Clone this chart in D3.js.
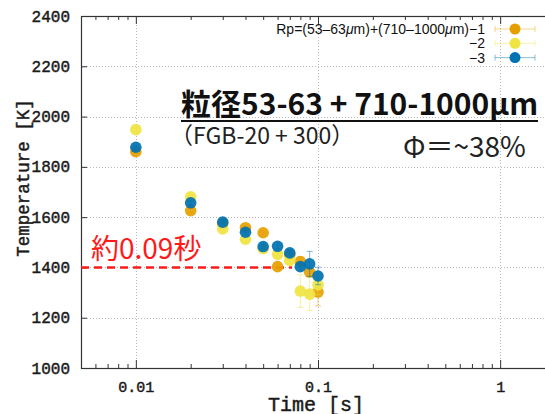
<!DOCTYPE html>
<html>
<head>
<meta charset="utf-8">
<script src="https://cdn.jsdelivr.net/npm/d3@7"></script>
<style>
  body { margin: 0; background: #fff; }
  svg { display: block; }
</style>
</head>
<body>
<svg id="canvas" width="545" height="414"></svg>
<script>
// data
var times = [0.01, 0.02, 0.03, 0.04, 0.05, 0.06, 0.07, 0.08, 0.09, 0.1];
var temp1 = [1860, 1626, 1575, 1558, 1538, 1403, 1450, 1423, 1381, 1302];
var temp2 = [1948, 1681, 1553, 1512, 1475, 1452, 1428, 1306, 1294, 1331];
var temp3 = [1878, 1657, 1580, 1540, 1483, 1484, 1458, 1403, 1414, 1366];
var err1 = [8, 8, 8, 8, 8, 10, 10, 20, 15, 55];
var err2 = [8, 8, 8, 8, 8, 10, 15, 65, 65, 40];
var err3 = [8, 8, 8, 8, 8, 10, 12, 15, 50, 35];
var seriesNames = ["Rp=(53\u201363\u03bcm)+(710\u20131000\u03bcm)\u22121", "\u22122", "\u22123"];
var seriesColors = ["#e69f00", "#f0e442", "#0072b2"];
var xTicks = [0.01, 0.1, 1];
var xTickLabels = ["0.01", "0.1", "1"];
var yTicks = [1000, 1200, 1400, 1600, 1800, 2000, 2200, 2400];
var cutoffTemp = 1400, cutoffTime = 0.072;

var svg = d3.select("#canvas"),
  pLeft = 81, pTop = 16, pBottom = 368, pRight = 555;

var x = d3.scaleLog().domain([0.005, 2]).range([pLeft, pRight]);
var y = d3.scaleLinear().domain([1000, 2400]).range([pBottom, pTop]);

var mono = "'Liberation Mono', 'DejaVu Sans Mono', monospace";

// grid
var grid = svg.append("g").attr("stroke", "#b8b8b8").attr("stroke-width", 1).attr("stroke-dasharray", "1,2");
grid.selectAll(".gx").data(xTicks).enter().append("line")
  .attr("x1", function(d) { return Math.round(x(d)) + 0.5; })
  .attr("x2", function(d) { return Math.round(x(d)) + 0.5; })
  .attr("y1", pTop).attr("y2", pBottom);
grid.selectAll(".gy").data(yTicks.slice(1, -1)).enter().append("line")
  .attr("x1", pLeft).attr("x2", pRight)
  .attr("y1", function(d) { return Math.round(y(d)) + 0.5; })
  .attr("y2", function(d) { return Math.round(y(d)) + 0.5; });

// minor ticks for log axis
var minor = [];
[0.001, 0.01, 0.1, 1].forEach(function(b) {
  for (var k = 2; k <= 9; k++) {
    var v = b * k;
    if (v > 0.005 && v < 2) minor.push(v);
  }
});

function styleAxis(g) {
  g.select(".domain").remove();
  g.selectAll("line").attr("stroke", "#333");
}
function styleLabels(sel, size) {
  sel.attr("font-family", mono).attr("font-size", size).attr("fill", "#1a1a1a")
    .attr("stroke", "#1a1a1a").attr("stroke-width", 0.45);
}

svg.append("g").attr("transform", "translate(0," + pBottom + ")")
  .call(d3.axisBottom(x).tickValues(xTicks).tickSize(-8).tickFormat(function(d, i) { return xTickLabels[i]; }).tickPadding(13))
  .call(styleAxis)
  .selectAll("text").call(styleLabels, 15);
svg.append("g").attr("transform", "translate(0," + pBottom + ")")
  .call(d3.axisBottom(x).tickValues(minor).tickSize(-4).tickFormat(""))
  .call(styleAxis);
svg.append("g").attr("transform", "translate(0," + pTop + ")")
  .call(d3.axisTop(x).tickValues(xTicks).tickSize(-8).tickFormat(""))
  .call(styleAxis);
svg.append("g").attr("transform", "translate(0," + pTop + ")")
  .call(d3.axisTop(x).tickValues(minor).tickSize(-4).tickFormat(""))
  .call(styleAxis);
svg.append("g").attr("transform", "translate(" + pLeft + ",0)")
  .call(d3.axisLeft(y).tickValues(yTicks).tickSize(-6).tickPadding(11).tickFormat(d3.format("d")))
  .call(styleAxis)
  .selectAll("text").call(styleLabels, 16);

// border
svg.append("rect").attr("x", pLeft + 0.5).attr("y", pTop + 0.5)
  .attr("width", pRight - pLeft).attr("height", pBottom - pTop)
  .attr("fill", "none").attr("stroke", "#333").attr("stroke-width", 1.2);

// axis titles
svg.append("text").attr("x", 316).attr("y", 411).attr("text-anchor", "middle")
  .text("Time [s]").call(styleLabels, 20);
svg.append("text").attr("transform", "translate(29,178) rotate(-90)").attr("text-anchor", "middle")
  .text("Temperature [K]").call(styleLabels, 17.5);

// cut-off line
svg.append("line")
  .attr("x1", x(0.005)).attr("x2", x(cutoffTime))
  .attr("y1", y(cutoffTemp)).attr("y2", y(cutoffTemp))
  .attr("stroke", "#ff1a1a").attr("stroke-width", 2.6).attr("stroke-dasharray", "8,5");

// series
var allSeries = [temp1, temp2, temp3].map(function(vals, i) {
  var errs = [err1, err2, err3][i];
  return times.map(function(t, j) { return { t: t, v: vals[j], e: errs[j], s: i }; });
});

allSeries.forEach(function(pts, i) {
  var g = svg.append("g");
  var eb = g.selectAll(".eb").data(pts).enter().append("g")
    .attr("stroke", seriesColors[i]).attr("stroke-opacity", 0.5).attr("stroke-width", 1);
  eb.append("line")
    .attr("x1", function(d) { return x(d.t); }).attr("x2", function(d) { return x(d.t); })
    .attr("y1", function(d) { return y(d.v - d.e); }).attr("y2", function(d) { return y(d.v + d.e); });
  eb.append("line")
    .attr("x1", function(d) { return x(d.t) - 3; }).attr("x2", function(d) { return x(d.t) + 3; })
    .attr("y1", function(d) { return y(d.v - d.e); }).attr("y2", function(d) { return y(d.v - d.e); });
  eb.append("line")
    .attr("x1", function(d) { return x(d.t) - 3; }).attr("x2", function(d) { return x(d.t) + 3; })
    .attr("y1", function(d) { return y(d.v + d.e); }).attr("y2", function(d) { return y(d.v + d.e); });
  g.selectAll("circle").data(pts).enter().append("circle")
    .attr("cx", function(d) { return x(d.t); })
    .attr("cy", function(d) { return y(d.v); })
    .attr("r", 5.8)
    .attr("fill", seriesColors[i]).attr("fill-opacity", 0.92);
});

// legend
var leg = svg.append("g");
seriesNames.forEach(function(name, i) {
  var ly = 29 + i * 14.3;
  var t = leg.append("text").attr("x", 485).attr("y", ly + 5).attr("text-anchor", "end")
    .attr("font-family", "'Liberation Sans', Arial, sans-serif").attr("font-size", 14).attr("fill", "#111");
  name.split("\u03bc").forEach(function(part, k) {
    if (k > 0) t.append("tspan").attr("font-style", "italic").text("\u03bc");
    t.append("tspan").text(part);
  });
  var lg = leg.append("g").attr("stroke", seriesColors[i]).attr("stroke-opacity", 0.45);
  lg.append("line").attr("x1", 495).attr("x2", 535).attr("y1", ly).attr("y2", ly);
  lg.append("line").attr("x1", 495).attr("x2", 495).attr("y1", ly - 3).attr("y2", ly + 3);
  lg.append("line").attr("x1", 535).attr("x2", 535).attr("y1", ly - 3).attr("y2", ly + 3);
  leg.append("circle").attr("cx", 515).attr("cy", ly).attr("r", 5.5).attr("fill", seriesColors[i]);
});

// annotations
var jp = "'Noto Sans CJK JP', 'Noto Sans', sans-serif";
svg.append("text").attr("x", 181).attr("y", 115)
  .attr("font-family", jp).attr("font-weight", "bold").attr("font-size", 30).attr("fill", "#111")
  .text("\u7c92\u5f8453-63 + 710-1000\u00b5m");
svg.append("line").attr("x1", 181).attr("x2", 538).attr("y1", 121).attr("y2", 121)
  .attr("stroke", "#111").attr("stroke-width", 2);
svg.append("text").attr("x", 170).attr("y", 144)
  .attr("font-family", jp).attr("font-size", 23).attr("fill", "#222")
  .text("\uff08FGB-20 + 300\uff09");
svg.append("text").attr("x", 403).attr("y", 157)
  .attr("font-family", jp).attr("font-size", 28).attr("fill", "#222")
  .text("\u03a6\uff1d~38%");
svg.append("text").attr("x", 91).attr("y", 259)
  .attr("font-family", jp).attr("font-size", 28).attr("fill", "#ff1a1a")
  .text("\u7d040.09\u79d2");
</script>
</body>
</html>
